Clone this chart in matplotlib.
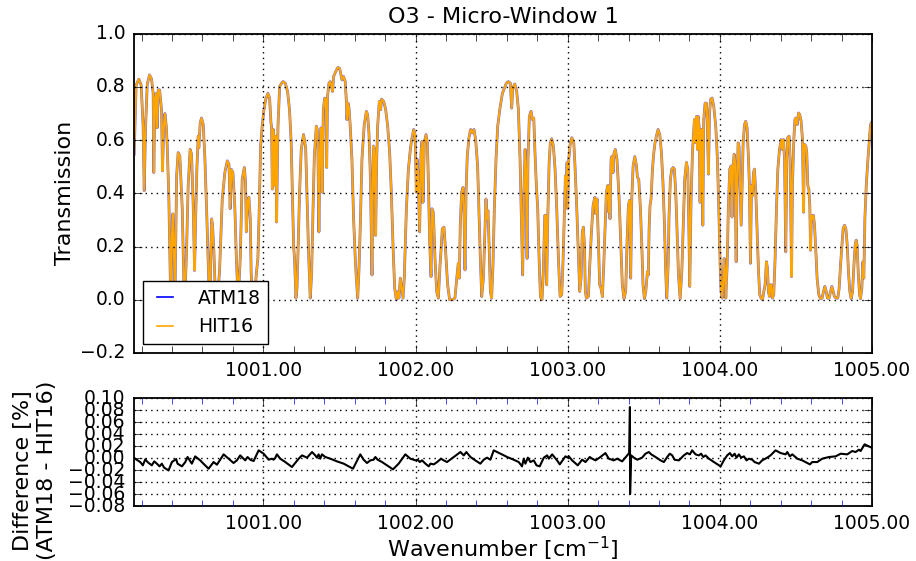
import matplotlib
matplotlib.use('Agg')
import matplotlib.pyplot as plt
import numpy as np
from matplotlib.ticker import MultipleLocator, FuncFormatter

plt.style.use('classic')
plt.rcParams['mathtext.fontset'] = 'dejavusans'
plt.rcParams['font.family'] = ['DejaVu Sans']

# O3 micro-window 1: transmission (ATM18 lies on top of it)
hit16_spectrum = [
    (1000.151, 0.547), (1000.164, 0.807), (1000.182, 0.829), (1000.197, 0.807), (1000.210, 0.652),
    (1000.217, 0.410), (1000.226, 0.650), (1000.237, 0.810), (1000.252, 0.845), (1000.265, 0.830),
    (1000.276, 0.776), (1000.280, 0.478), (1000.287, 0.750), (1000.296, 0.776), (1000.302, 0.646),
    (1000.309, 0.789), (1000.318, 0.789), (1000.331, 0.714), (1000.337, 0.484), (1000.346, 0.652),
    (1000.353, 0.700), (1000.362, 0.652), (1000.368, 0.584), (1000.379, 0.379), (1000.388, 0.093),
    (1000.392, 0.000), (1000.399, 0.242), (1000.405, 0.323), (1000.412, 0.205), (1000.419, 0.000),
    (1000.430, 0.466), (1000.440, 0.553), (1000.451, 0.540), (1000.467, 0.342), (1000.478, 0.056),
    (1000.484, 0.000), (1000.495, 0.180), (1000.506, 0.430), (1000.519, 0.565), (1000.528, 0.547),
    (1000.539, 0.354), (1000.548, 0.110), (1000.554, 0.280), (1000.563, 0.490), (1000.572, 0.615),
    (1000.576, 0.571), (1000.585, 0.665), (1000.594, 0.683), (1000.605, 0.658), (1000.616, 0.528),
    (1000.629, 0.304), (1000.642, 0.056), (1000.649, 0.000), (1000.660, 0.304), (1000.666, 0.280),
    (1000.675, 0.180), (1000.686, 0.000), (1000.700, 0.020), (1000.712, 0.106), (1000.730, 0.379),
    (1000.747, 0.478), (1000.763, 0.522), (1000.774, 0.509), (1000.782, 0.342), (1000.789, 0.490),
    (1000.800, 0.478), (1000.813, 0.342), (1000.824, 0.130), (1000.835, 0.000), (1000.848, 0.155),
    (1000.861, 0.453), (1000.875, 0.497), (1000.883, 0.441), (1000.888, 0.255), (1000.896, 0.366),
    (1000.905, 0.385), (1000.914, 0.304), (1000.920, 0.099), (1000.929, 0.000), (1000.942, 0.000),
    (1000.953, 0.093), (1000.964, 0.155), (1000.973, 0.342), (1000.982, 0.578), (1000.993, 0.658),
    (1001.004, 0.714), (1001.015, 0.752), (1001.030, 0.776), (1001.041, 0.758), (1001.050, 0.665),
    (1001.054, 0.652), (1001.059, 0.416), (1001.065, 0.640), (1001.072, 0.590), (1001.076, 0.430),
    (1001.083, 0.615), (1001.087, 0.292), (1001.096, 0.652), (1001.107, 0.801), (1001.120, 0.814),
    (1001.129, 0.820), (1001.144, 0.814), (1001.159, 0.783), (1001.172, 0.714), (1001.183, 0.590),
    (1001.194, 0.317), (1001.199, 0.199), (1001.205, 0.155), (1001.214, 0.006), (1001.221, 0.043),
    (1001.229, 0.205), (1001.238, 0.404), (1001.249, 0.565), (1001.264, 0.621), (1001.278, 0.571),
    (1001.286, 0.404), (1001.297, 0.180), (1001.308, 0.006), (1001.317, 0.093), (1001.326, 0.329),
    (1001.335, 0.540), (1001.348, 0.652), (1001.357, 0.634), (1001.365, 0.255), (1001.372, 0.540),
    (1001.378, 0.646), (1001.383, 0.640), (1001.387, 0.404), (1001.394, 0.714), (1001.403, 0.758),
    (1001.411, 0.752), (1001.416, 0.497), (1001.422, 0.764), (1001.431, 0.814), (1001.440, 0.820),
    (1001.446, 0.807), (1001.455, 0.783), (1001.462, 0.839), (1001.475, 0.857), (1001.490, 0.873),
    (1001.501, 0.870), (1001.510, 0.845), (1001.517, 0.826), (1001.527, 0.839), (1001.538, 0.820),
    (1001.545, 0.752), (1001.549, 0.677), (1001.556, 0.739), (1001.563, 0.720), (1001.571, 0.652),
    (1001.582, 0.528), (1001.593, 0.304), (1001.604, 0.155), (1001.611, 0.081), (1001.620, 0.006),
    (1001.628, 0.106), (1001.637, 0.280), (1001.648, 0.528), (1001.663, 0.658), (1001.677, 0.708),
    (1001.685, 0.696), (1001.694, 0.627), (1001.703, 0.466), (1001.709, 0.255), (1001.714, 0.093),
    (1001.718, 0.354), (1001.723, 0.578), (1001.731, 0.565), (1001.738, 0.242), (1001.745, 0.528),
    (1001.751, 0.652), (1001.762, 0.745), (1001.771, 0.714), (1001.777, 0.754), (1001.791, 0.745),
    (1001.804, 0.714), (1001.817, 0.652), (1001.830, 0.553), (1001.841, 0.404), (1001.852, 0.205),
    (1001.863, 0.043), (1001.874, 0.000), (1001.883, 0.031), (1001.891, 0.006), (1001.900, 0.081),
    (1001.909, 0.043), (1001.918, 0.006), (1001.926, 0.081), (1001.940, 0.342), (1001.953, 0.490),
    (1001.966, 0.565), (1001.975, 0.602), (1001.988, 0.640), (1001.997, 0.621), (1002.001, 0.528),
    (1002.005, 0.404), (1002.010, 0.528), (1002.016, 0.478), (1002.021, 0.379), (1002.027, 0.255),
    (1002.036, 0.553), (1002.043, 0.596), (1002.049, 0.366), (1002.058, 0.590), (1002.069, 0.621),
    (1002.078, 0.590), (1002.086, 0.404), (1002.093, 0.217), (1002.102, 0.087), (1002.108, 0.342),
    (1002.117, 0.329), (1002.128, 0.155), (1002.139, 0.031), (1002.150, 0.006), (1002.161, 0.130),
    (1002.167, 0.180), (1002.176, 0.267), (1002.187, 0.273), (1002.198, 0.180), (1002.211, 0.056),
    (1002.224, 0.000), (1002.242, 0.000), (1002.259, 0.006), (1002.273, 0.093), (1002.281, 0.137),
    (1002.288, 0.081), (1002.294, 0.280), (1002.303, 0.404), (1002.312, 0.422), (1002.319, 0.317),
    (1002.325, 0.112), (1002.332, 0.404), (1002.340, 0.540), (1002.351, 0.609), (1002.362, 0.640),
    (1002.373, 0.627), (1002.384, 0.640), (1002.395, 0.602), (1002.408, 0.503), (1002.417, 0.329),
    (1002.426, 0.155), (1002.435, 0.012), (1002.446, 0.081), (1002.457, 0.280), (1002.463, 0.379),
    (1002.470, 0.304), (1002.476, 0.335), (1002.483, 0.217), (1002.492, 0.031), (1002.500, 0.006),
    (1002.509, 0.130), (1002.518, 0.342), (1002.529, 0.528), (1002.540, 0.652), (1002.555, 0.720),
    (1002.571, 0.776), (1002.584, 0.795), (1002.597, 0.814), (1002.610, 0.820), (1002.623, 0.814),
    (1002.632, 0.720), (1002.639, 0.795), (1002.652, 0.811), (1002.665, 0.783), (1002.676, 0.714),
    (1002.687, 0.528), (1002.698, 0.255), (1002.704, 0.093), (1002.711, 0.379), (1002.720, 0.565),
    (1002.726, 0.466), (1002.733, 0.155), (1002.739, 0.528), (1002.748, 0.689), (1002.759, 0.708),
    (1002.768, 0.677), (1002.777, 0.683), (1002.785, 0.553), (1002.794, 0.429), (1002.803, 0.342),
    (1002.812, 0.155), (1002.821, 0.012), (1002.831, 0.000), (1002.840, 0.106), (1002.849, 0.317),
    (1002.856, 0.317), (1002.862, 0.056), (1002.869, 0.304), (1002.878, 0.516), (1002.886, 0.590),
    (1002.895, 0.605), (1002.906, 0.578), (1002.917, 0.491), (1002.928, 0.342), (1002.939, 0.155),
    (1002.950, 0.012), (1002.961, 0.019), (1002.970, 0.155), (1002.978, 0.329), (1002.985, 0.466),
    (1002.991, 0.429), (1002.996, 0.516), (1003.000, 0.342), (1003.007, 0.528), (1003.016, 0.584),
    (1003.027, 0.609), (1003.040, 0.590), (1003.048, 0.503), (1003.059, 0.354), (1003.068, 0.205),
    (1003.079, 0.031), (1003.088, 0.081), (1003.096, 0.255), (1003.103, 0.273), (1003.110, 0.205),
    (1003.116, 0.031), (1003.123, 0.006), (1003.136, 0.012), (1003.145, 0.130), (1003.156, 0.255),
    (1003.167, 0.354), (1003.178, 0.385), (1003.184, 0.323), (1003.193, 0.379), (1003.202, 0.217),
    (1003.210, 0.056), (1003.219, 0.043), (1003.228, 0.012), (1003.237, 0.130), (1003.246, 0.280),
    (1003.254, 0.404), (1003.263, 0.429), (1003.270, 0.329), (1003.274, 0.429), (1003.278, 0.304),
    (1003.285, 0.528), (1003.292, 0.540), (1003.298, 0.478), (1003.305, 0.553), (1003.313, 0.565),
    (1003.324, 0.528), (1003.338, 0.379), (1003.349, 0.205), (1003.359, 0.056), (1003.370, 0.004),
    (1003.381, 0.031), (1003.390, 0.217), (1003.399, 0.354), (1003.406, 0.373), (1003.414, 0.081),
    (1003.421, 0.379), (1003.430, 0.503), (1003.441, 0.538), (1003.452, 0.503), (1003.458, 0.460),
    (1003.467, 0.453), (1003.478, 0.342), (1003.487, 0.205), (1003.495, 0.056), (1003.504, 0.004),
    (1003.513, 0.031), (1003.524, 0.106), (1003.530, 0.093), (1003.535, 0.267), (1003.541, 0.354),
    (1003.548, 0.379), (1003.557, 0.491), (1003.566, 0.553), (1003.574, 0.590), (1003.583, 0.615),
    (1003.594, 0.640), (1003.605, 0.621), (1003.616, 0.553), (1003.627, 0.429), (1003.636, 0.280),
    (1003.644, 0.106), (1003.651, 0.006), (1003.660, 0.130), (1003.666, 0.317), (1003.675, 0.453),
    (1003.684, 0.491), (1003.693, 0.497), (1003.701, 0.491), (1003.710, 0.404), (1003.719, 0.255),
    (1003.728, 0.093), (1003.739, 0.004), (1003.750, 0.106), (1003.758, 0.255), (1003.769, 0.453),
    (1003.780, 0.516), (1003.789, 0.491), (1003.796, 0.280), (1003.802, 0.050), (1003.811, 0.379),
    (1003.820, 0.553), (1003.826, 0.615), (1003.833, 0.677), (1003.840, 0.590), (1003.846, 0.689),
    (1003.853, 0.565), (1003.857, 0.689), (1003.864, 0.652), (1003.870, 0.366), (1003.877, 0.640),
    (1003.881, 0.640), (1003.888, 0.280), (1003.894, 0.677), (1003.903, 0.739), (1003.912, 0.739),
    (1003.918, 0.652), (1003.925, 0.472), (1003.932, 0.702), (1003.940, 0.754), (1003.949, 0.758),
    (1003.960, 0.727), (1003.973, 0.652), (1003.984, 0.528), (1003.993, 0.342), (1004.002, 0.130),
    (1004.008, 0.031), (1004.015, 0.006), (1004.021, 0.056), (1004.028, 0.155), (1004.034, 0.106),
    (1004.039, 0.006), (1004.048, 0.130), (1004.056, 0.354), (1004.065, 0.491), (1004.074, 0.503),
    (1004.080, 0.311), (1004.087, 0.503), (1004.094, 0.547), (1004.100, 0.516), (1004.107, 0.143),
    (1004.113, 0.429), (1004.120, 0.590), (1004.126, 0.578), (1004.133, 0.429), (1004.140, 0.280),
    (1004.146, 0.416), (1004.153, 0.590), (1004.162, 0.658), (1004.170, 0.671), (1004.179, 0.646),
    (1004.188, 0.528), (1004.194, 0.435), (1004.201, 0.137), (1004.208, 0.429), (1004.214, 0.391),
    (1004.221, 0.478), (1004.227, 0.491), (1004.236, 0.404), (1004.245, 0.255), (1004.254, 0.106),
    (1004.262, 0.019), (1004.271, 0.006), (1004.280, 0.000), (1004.289, 0.031), (1004.297, 0.056),
    (1004.306, 0.143), (1004.313, 0.118), (1004.319, 0.031), (1004.326, 0.012), (1004.332, 0.056),
    (1004.339, 0.056), (1004.346, 0.006), (1004.354, 0.019), (1004.363, 0.155), (1004.372, 0.342),
    (1004.381, 0.491), (1004.392, 0.565), (1004.403, 0.602), (1004.411, 0.565), (1004.418, 0.602),
    (1004.425, 0.528), (1004.433, 0.180), (1004.440, 0.528), (1004.446, 0.609), (1004.455, 0.615),
    (1004.462, 0.528), (1004.471, 0.087), (1004.477, 0.429), (1004.486, 0.602), (1004.493, 0.677),
    (1004.499, 0.683), (1004.508, 0.658), (1004.517, 0.702), (1004.525, 0.696), (1004.534, 0.671),
    (1004.543, 0.602), (1004.550, 0.329), (1004.556, 0.584), (1004.565, 0.578), (1004.571, 0.553),
    (1004.578, 0.429), (1004.585, 0.416), (1004.591, 0.354), (1004.596, 0.186), (1004.602, 0.317),
    (1004.609, 0.304), (1004.615, 0.317), (1004.622, 0.280), (1004.631, 0.180), (1004.639, 0.081),
    (1004.650, 0.019), (1004.661, 0.004), (1004.672, 0.006), (1004.681, 0.031), (1004.690, 0.050),
    (1004.699, 0.031), (1004.707, 0.006), (1004.718, 0.006), (1004.727, 0.031), (1004.736, 0.050),
    (1004.745, 0.031), (1004.753, 0.012), (1004.764, 0.006), (1004.775, 0.006), (1004.784, 0.043),
    (1004.793, 0.130), (1004.802, 0.205), (1004.810, 0.267), (1004.819, 0.280), (1004.828, 0.267),
    (1004.837, 0.205), (1004.845, 0.106), (1004.854, 0.031), (1004.863, 0.004), (1004.872, 0.031),
    (1004.881, 0.130), (1004.889, 0.205), (1004.896, 0.224), (1004.902, 0.205), (1004.909, 0.106),
    (1004.918, 0.019), (1004.924, 0.004), (1004.933, 0.043), (1004.940, 0.143), (1004.946, 0.081),
    (1004.953, 0.304), (1004.962, 0.429), (1004.973, 0.528), (1004.984, 0.615), (1004.990, 0.658),
    (1005.001, 0.671),
]

# difference ATM18 - HIT16 in percent
diff_points = [
    (1000.151, 0.0000), (1000.191, -0.0067), (1000.208, -0.0122), (1000.224, -0.0022), (1000.239, -0.0067),
    (1000.267, -0.0122), (1000.283, -0.0056), (1000.300, -0.0094), (1000.318, -0.0139), (1000.333, -0.0094),
    (1000.348, -0.0161), (1000.377, -0.0206), (1000.399, -0.0067), (1000.414, -0.0039), (1000.427, -0.0017),
    (1000.436, -0.0094), (1000.465, -0.0139), (1000.487, -0.0067), (1000.502, 0.0017), (1000.530, -0.0094),
    (1000.552, 0.0028), (1000.585, -0.0039), (1000.611, -0.0106), (1000.640, -0.0178), (1000.673, -0.0067),
    (1000.695, -0.0111), (1000.739, 0.0061), (1000.772, -0.0011), (1000.804, -0.0083), (1000.826, -0.0039),
    (1000.848, 0.0044), (1000.881, -0.0039), (1000.896, 0.0017), (1000.914, -0.0028), (1000.936, -0.0050),
    (1000.969, 0.0128), (1001.002, 0.0072), (1001.035, -0.0028), (1001.056, -0.0011), (1001.067, -0.0028),
    (1001.078, 0.0000), (1001.089, 0.0061), (1001.111, -0.0011), (1001.144, -0.0067), (1001.188, -0.0150),
    (1001.232, -0.0011), (1001.254, 0.0044), (1001.287, 0.0006), (1001.320, 0.0100), (1001.341, 0.0044),
    (1001.352, 0.0006), (1001.363, 0.0061), (1001.374, -0.0011), (1001.385, 0.0061), (1001.407, 0.0017),
    (1001.440, -0.0011), (1001.484, -0.0056), (1001.528, -0.0094), (1001.561, -0.0139), (1001.589, -0.0178),
    (1001.611, -0.0067), (1001.637, 0.0061), (1001.659, -0.0028), (1001.681, -0.0083), (1001.703, -0.0039),
    (1001.725, -0.0028), (1001.736, 0.0017), (1001.751, -0.0028), (1001.780, -0.0067), (1001.813, -0.0122),
    (1001.852, -0.0189), (1001.889, -0.0094), (1001.933, 0.0061), (1001.966, -0.0011), (1001.999, -0.0039),
    (1002.014, -0.0028), (1002.028, -0.0067), (1002.043, -0.0039), (1002.065, -0.0094), (1002.087, -0.0139),
    (1002.098, -0.0094), (1002.120, -0.0106), (1002.142, -0.0067), (1002.168, -0.0011), (1002.185, -0.0039),
    (1002.207, -0.0067), (1002.251, 0.0017), (1002.295, 0.0100), (1002.317, 0.0044), (1002.334, 0.0100),
    (1002.361, 0.0017), (1002.393, -0.0039), (1002.426, -0.0094), (1002.448, -0.0028), (1002.470, 0.0006),
    (1002.492, -0.0028), (1002.514, 0.0128), (1002.558, 0.0072), (1002.602, 0.0017), (1002.645, -0.0028),
    (1002.678, -0.0067), (1002.700, -0.0139), (1002.711, -0.0011), (1002.722, -0.0094), (1002.738, 0.0006),
    (1002.755, -0.0067), (1002.777, -0.0039), (1002.795, -0.0122), (1002.816, -0.0139), (1002.843, 0.0006),
    (1002.865, 0.0044), (1002.876, -0.0011), (1002.898, 0.0061), (1002.930, -0.0039), (1002.948, -0.0106),
    (1002.985, 0.0028), (1003.001, 0.0006), (1003.007, 0.0028), (1003.029, -0.0039), (1003.066, -0.0122),
    (1003.095, -0.0028), (1003.117, -0.0067), (1003.145, 0.0017), (1003.161, -0.0011), (1003.183, -0.0039),
    (1003.215, 0.0017), (1003.248, 0.0083), (1003.270, -0.0011), (1003.303, -0.0039), (1003.325, -0.0011),
    (1003.358, -0.0056), (1003.391, 0.0044), (1003.404, 0.0083), (1003.409, 0.0850), (1003.410, -0.0600),
    (1003.417, 0.0044), (1003.435, 0.0006), (1003.457, -0.0028), (1003.489, 0.0006), (1003.511, 0.0072),
    (1003.533, 0.0100), (1003.549, 0.0061), (1003.577, 0.0017), (1003.610, -0.0039), (1003.632, -0.0067),
    (1003.654, 0.0017), (1003.671, 0.0072), (1003.687, 0.0044), (1003.702, -0.0028), (1003.731, -0.0039),
    (1003.763, 0.0044), (1003.785, 0.0083), (1003.803, 0.0061), (1003.818, 0.0128), (1003.840, 0.0061),
    (1003.862, 0.0044), (1003.877, 0.0072), (1003.891, 0.0017), (1003.906, 0.0044), (1003.928, -0.0011),
    (1003.961, -0.0067), (1004.005, -0.0139), (1004.026, -0.0039), (1004.048, 0.0044), (1004.066, 0.0083),
    (1004.081, 0.0028), (1004.097, 0.0072), (1004.110, 0.0006), (1004.125, 0.0061), (1004.140, 0.0006),
    (1004.158, 0.0028), (1004.175, -0.0039), (1004.191, -0.0011), (1004.213, -0.0028), (1004.228, -0.0067),
    (1004.257, -0.0094), (1004.278, -0.0039), (1004.311, 0.0006), (1004.333, 0.0044), (1004.366, 0.0128),
    (1004.399, 0.0083), (1004.432, 0.0061), (1004.443, 0.0100), (1004.460, 0.0028), (1004.476, 0.0061),
    (1004.509, -0.0011), (1004.541, -0.0039), (1004.574, -0.0083), (1004.592, -0.0106), (1004.607, -0.0067),
    (1004.640, -0.0067), (1004.673, -0.0011), (1004.717, 0.0017), (1004.761, 0.0028), (1004.794, 0.0072),
    (1004.837, 0.0061), (1004.870, 0.0117), (1004.892, 0.0100), (1004.914, 0.0139), (1004.925, 0.0117),
    (1004.951, 0.0228), (1004.980, 0.0194), (1005.002, 0.0167),
]

wn_top, trans_hit16 = np.array(hit16_spectrum).T
trans_atm18 = trans_hit16.copy()  # indistinguishable at this scale
wn_diff, diff_pct = np.array(diff_points).T


def fmt(pattern):
    # tick labels with a real minus sign
    return FuncFormatter(lambda v, pos: (pattern % v).replace('-', '\u2212'))


tick_fs = 13.5
label_fs = 16

fig = plt.figure(figsize=(9.16, 5.61), dpi=100, facecolor='white')
ax1 = fig.add_axes([0.1463, 0.3708, 0.8057, 0.5692])
ax2 = fig.add_axes([0.1463, 0.098, 0.8057, 0.1925])

ax1.plot(wn_top, trans_atm18, color='b', lw=2.0, alpha=0.6, label='ATM18')
ax1.plot(wn_top, trans_hit16, color='orange', lw=1.5, label='HIT16')
ax1.set_xlim(1000.15, 1005.0)
ax1.set_ylim(-0.2, 1.0)
ax1.set_ylabel('Transmission', fontsize=label_fs)
ax1.yaxis.set_label_coords(-0.08, 0.5)
ax1.set_title('O3 - Micro-Window 1', fontsize=label_fs, pad=8)
ax1.xaxis.set_major_locator(MultipleLocator(1.0))
ax1.xaxis.set_minor_locator(MultipleLocator(0.2))
ax1.xaxis.set_major_formatter(fmt('%.2f'))
ax1.yaxis.set_major_locator(MultipleLocator(0.2))
ax1.yaxis.set_major_formatter(fmt('%.1f'))
ax1.tick_params(which='both', direction='in', labelsize=tick_fs, pad=6)
ax1.tick_params(which='minor', length=5)
ax1.tick_params(which='major', length=6)
ax1.grid(True, which='major', color='k', linestyle=':', linewidth=1.0)
leg = ax1.legend(loc='lower left', fontsize=tick_fs, handlelength=1.5,
                 handletextpad=1.0, fancybox=False, frameon=True)
leg.get_frame().set_edgecolor('k')
for lh in leg.get_lines():
    lh.set_linewidth(1.2)
    lh.set_alpha(1)

ax2.plot(wn_diff, diff_pct, color='k', lw=1.5)
ax2.set_xlim(1000.15, 1005.0)
ax2.set_ylim(-0.08, 0.10)
ax2.xaxis.set_major_locator(MultipleLocator(1.0))
ax2.xaxis.set_minor_locator(MultipleLocator(0.2))
ax2.xaxis.set_major_formatter(fmt('%.2f'))
ax2.set_yticks(np.arange(-0.08, 0.101, 0.02))
ax2.yaxis.set_major_formatter(fmt('%.2f'))
ax2.tick_params(which='both', direction='in', labelsize=tick_fs, pad=6)
ax2.tick_params(axis='x', which='minor', length=4, color='b')
ax2.tick_params(which='major', length=6)
ax2.grid(True, which='major', color='k', linestyle=':', linewidth=1.0)
ax2.set_xlabel('Wavenumber [cm$^{-1}$]', fontsize=label_fs, labelpad=1)
ax2.set_ylabel('Difference [%]\n(ATM18 - HIT16)', fontsize=label_fs)
ax2.yaxis.set_label_coords(-0.105, 0.33)

for ax in (ax1, ax2):
    for sp in ax.spines.values():
        sp.set_linewidth(1.3)

fig.savefig('out.png', dpi=100, facecolor='white')
